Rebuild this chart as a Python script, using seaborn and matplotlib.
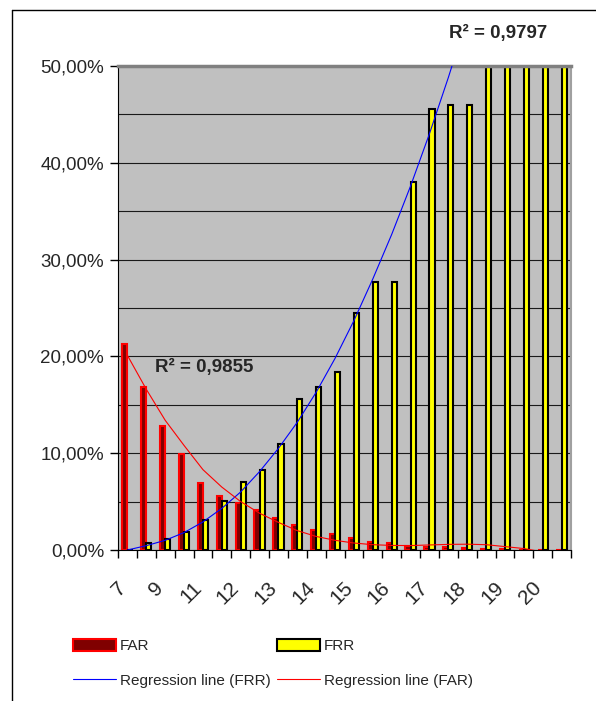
#%% IMPORTS
import numpy as np
import pandas as pd
import matplotlib
matplotlib.use("Agg")
import matplotlib.pyplot as plt
from matplotlib.patches import Patch
from matplotlib.lines import Line2D
from matplotlib.ticker import MultipleLocator
from matplotlib.transforms import ScaledTranslation

import seaborn as sns

#%% DATA
thresholds = ['7', '8', '9', '10', '11', '11,5', '12', '12,5', '13', '13,5', '14', '14,5',
              '15', '15,5', '16', '16,5', '17', '17,5', '18', '18,5', '19', '19,5', '20', '20,5']

far = [21.3, 16.8, 12.8, 9.9, 6.9, 5.6, 4.9, 4.1, 3.3, 2.6, 2.07, 1.7,
       1.27, 0.8, 0.76, 0.45, 0.35, 0.28, 0.2, 0.1, 0.1, 0.05, 0.0, 0.0]
frr = [0.0, 0.75, 1.1, 1.9, 3.1, 5.05, 7.0, 8.25, 11.0, 15.6, 16.8, 18.4,
       24.5, 27.7, 27.7, 38.0, 45.6, 46.0, 46.0, 55.0, 60.0, 65.0, 70.0, 75.0]

# trendlines, one value per category
frr_trend = [0.0, 0.45, 1.0, 1.8, 2.9, 4.3, 6.0, 8.1, 10.5, 13.2, 16.3, 19.8,
             23.7, 28.0, 32.6, 37.6, 43.0, 48.8, 55.0]
far_trend = [20.1, 16.6, 13.4, 10.8, 8.3, 6.5, 5.0, 3.8, 2.85, 2.0, 1.4, 1.0,
             0.72, 0.55, 0.47, 0.46, 0.52, 0.58, 0.6, 0.55, 0.35, 0.15, -0.2]

r2_far = 'R² = 0,9855'
r2_frr = 'R² = 0,9797'

y_ticks = [0, 10, 20, 30, 40, 50]
y_labels = ['0,00%', '10,00%', '20,00%', '30,00%', '40,00%', '50,00%']

#%% PLOT
sns.set_style('white')
plt.rcParams['font.family'] = ['Liberation Sans', 'DejaVu Sans']

df = pd.DataFrame({'threshold': thresholds, 'FAR': far, 'FRR': frr})
df_long = df.melt(id_vars=['threshold'], value_vars=['FAR', 'FRR'],
                  var_name='rate', value_name='value')

W, H = 596, 701
fig = plt.figure(figsize=(W / 100, H / 100), dpi=100)
ax = fig.add_axes([118 / W, 1 - 550 / H, 453 / W, 484 / H])
ax.set_facecolor('#c0c0c0')

sns.barplot(data=df_long, x='threshold', y='value', hue='rate',
            palette={'FAR': '#800000', 'FRR': '#ffff00'}, saturation=1,
            width=0.54, gap=0, linewidth=1.5, edgecolor='black',
            legend=False, ax=ax, zorder=2)
for bar in ax.containers[0]:
    bar.set_edgecolor('#ff0000')

sns.lineplot(x=np.arange(len(frr_trend)), y=frr_trend, color='#0000ff', lw=0.8, ax=ax, zorder=3)
sns.lineplot(x=np.arange(len(far_trend)), y=far_trend, color='#ff0000', lw=0.8, ax=ax, zorder=3)

ax.set_xlim(-0.5, len(thresholds) - 0.5)
ax.set_ylim(0, 50)
ax.set_xlabel('')
ax.set_ylabel('')

# y axis
ax.set_yticks(y_ticks)
ax.set_yticklabels(y_labels)
ax.yaxis.set_minor_locator(MultipleLocator(5))
ax.grid(axis='y', which='both', color='#1a1a1a', lw=0.8, zorder=1)
ax.set_axisbelow(True)
ax.tick_params(axis='y', which='minor', length=0)
ax.tick_params(axis='y', which='major', length=6, width=1, color='black',
               direction='out', pad=4, labelsize=13.5, left=True)

# x axis: labels on every other category, tick marks between categories
ax.set_xticks(np.arange(0, len(thresholds), 2))
ax.set_xticklabels(thresholds[::2])
ax.set_xticks(np.arange(-0.5, len(thresholds), 1), minor=True)
ax.tick_params(axis='x', which='major', length=0, pad=20, labelsize=15)
ax.tick_params(axis='x', which='minor', length=6, width=1, color='black',
               direction='out', bottom=True)
shift = ScaledTranslation(-8 / 72, 0, fig.dpi_scale_trans)
for lab in ax.get_xticklabels():
    lab.set_rotation(45)
    lab.set_ha('right')
    lab.set_va('top')
    lab.set_rotation_mode('anchor')
    lab.set_transform(lab.get_transform() + shift)

ax.spines['left'].set_color('black')
ax.spines['bottom'].set_color('black')
ax.spines['top'].set_color('#808080')
ax.spines['top'].set_linewidth(2.5)
ax.spines['right'].set_color('#a0a0a0')
ax.spines['right'].set_linewidth(1.5)

# R² labels
fig.text(155 / W, 1 - 372 / H, r2_far, fontsize=13.5, fontweight='bold', ha='left', va='baseline')
fig.text(449 / W, 1 - 38 / H, r2_frr, fontsize=13.5, fontweight='bold', ha='left', va='baseline')

# outer frame
fig.add_artist(Line2D([12 / W, 12 / W], [0, 1 - 10 / H], color='black', lw=1, transform=fig.transFigure))
fig.add_artist(Line2D([12 / W, 1], [1 - 10 / H, 1 - 10 / H], color='black', lw=1, transform=fig.transFigure))

# legend
handles = [Patch(facecolor='#800000', edgecolor='#ff0000', lw=1.5),
           Line2D([], [], color='#0000ff', lw=0.8),
           Patch(facecolor='#ffff00', edgecolor='black', lw=1.5),
           Line2D([], [], color='#ff0000', lw=0.8)]
labels = ['FAR', 'Regression line (FRR)', 'FRR', 'Regression line (FAR)']
fig.legend(handles, labels, ncol=2, loc='upper left', bbox_to_anchor=(73 / W, 1 - 639 / H),
           frameon=False, borderpad=0, borderaxespad=0, handlelength=2.8,
           handleheight=0.8, handletextpad=0.25, columnspacing=0.45, labelspacing=1.35,
           prop={'family': ['Liberation Sans', 'DejaVu Sans'], 'size': 11})

fig.savefig('out.png', dpi=100)
